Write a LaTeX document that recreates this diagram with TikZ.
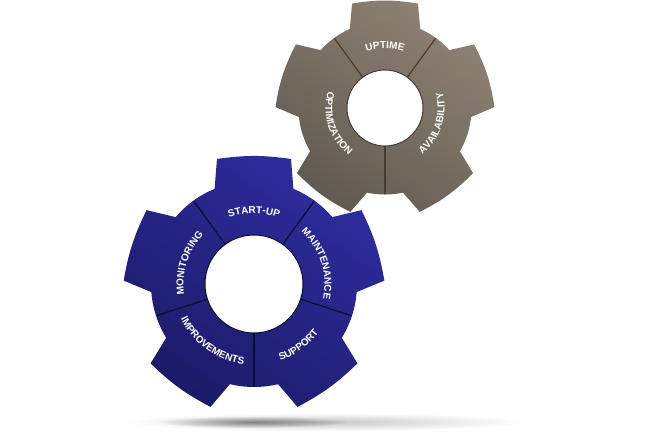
\documentclass[tikz,border=0pt]{standalone}
\usepackage{fontspec}
\setsansfont{Liberation Sans}
\usetikzlibrary{decorations.text,fadings}

\definecolor{gearblue}{HTML}{2E2DA0}
\definecolor{gearbluedark}{HTML}{1C1B68}
\definecolor{gearblueline}{HTML}{0C0C2E}
\definecolor{gearbrown}{HTML}{8E8273}
\definecolor{gearbrowndark}{HTML}{625A52}
\definecolor{gearbrownline}{HTML}{463C35}

\tikzfading[name=shadowfade,inner color=transparent!0,outer color=transparent!100]

\newcommand{\labelfont}{\sffamily\bfseries\fontsize{10}{12}\selectfont\color{white}}
\newcommand{\uplabel}[3]{\path[gear label=#3] (#1+50:#2) arc[start angle=#1+50,end angle=#1-50,radius=#2];}
\newcommand{\downlabel}[3]{\path[gear label=#3] (#1-50:#2) arc[start angle=#1-50,end angle=#1+50,radius=#2];}

\begin{document}
\begin{tikzpicture}[x=1pt,y=1pt,
  gear label/.style={decorate,decoration={text along path,text align=center,text={|\labelfont|#1}}},
  blue gear/.style={top color=gearblue,bottom color=gearbluedark,shading angle=-35},
  brown gear/.style={top color=gearbrown,bottom color=gearbrowndark,shading angle=-35},
  divider/.style={line width=1.2pt}]
\fill[white,use as bounding box] (0,0) rectangle (650,434);
\fill[black,opacity=.22,path fading=shadowfade] (325,12) ellipse[x radius=200,y radius=9];
\fill[black,opacity=.4,path fading=shadowfade] (253,12) ellipse[x radius=95,y radius=6];
\begin{scope}[shift={(385,326)}]
\path[brown gear,scale=.84] (-6:103) \foreach \a in {18,90,162,234,306} {-- (\a-17.5:130.4) to[bend right=9] (\a+17.5:130.4) -- (\a+24:103) arc[start angle=\a+24,end angle=\a+48,radius=103]} -- cycle;
\foreach \a in {54,126,270} \draw[divider,gearbrownline] (\a:38) -- (\a:86);
\draw[fill=white,draw=gearbrownline,line width=1pt] (0,0) circle[radius=38];
\uplabel{90}{59.5}{UPTIME}
\downlabel{-18}{59.5}{AVAILABILITY}
\downlabel{198}{59.5}{OPTIMIZATION}
\end{scope}
\begin{scope}[shift={(254,150)}]
\path[blue gear] (-4.5:103) \foreach \a in {18,90,162,234,306} {-- (\a-16.5:130.4) to[bend right=8] (\a+16.5:130.4) -- (\a+22.5:103) arc[start angle=\a+22.5,end angle=\a+49.5,radius=103]} -- cycle;
\foreach \a in {54,126,198,270,342} \draw[divider,gearblueline] (\a:49) -- (\a:102.5);
\draw[fill=white,draw=gearblueline,line width=1pt] (0,0) circle[radius=49];
\uplabel{90}{70.5}{START-UP}
\uplabel{18}{70.5}{MAINTENANCE}
\downlabel{-54}{81}{SUPPORT}
\downlabel{-126}{81}{IMPROVEMENTS}
\uplabel{162}{70.5}{MONITORING}
\end{scope}
\end{tikzpicture}
\end{document}
